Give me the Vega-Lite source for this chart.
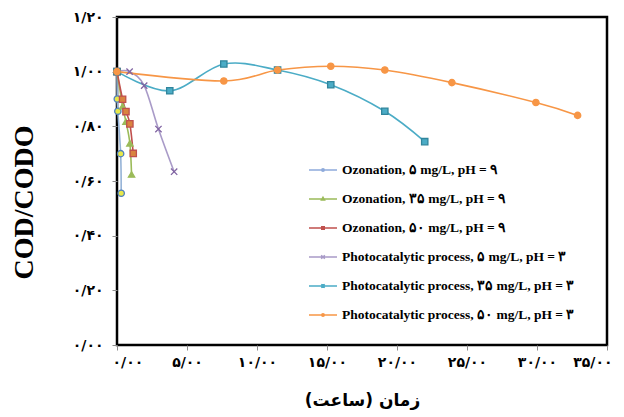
{
  "$schema": "https://vega.github.io/schema/vega-lite/v6.json",
  "width": 490,
  "height": 328,
  "autosize": "none",
  "padding": {"left": 117, "top": 17, "right": 17, "bottom": 72},
  "background": "white",
  "config": {"view": {"stroke": "black", "strokeWidth": 2.5}, "axis": {"grid": false}},
  "data": {"values": [
    {"s": "Ozonation, ۵ mg/L, pH = ۹", "t": 0, "v": 1.0},
    {"s": "Ozonation, ۵ mg/L, pH = ۹", "t": 0.02, "v": 0.90},
    {"s": "Ozonation, ۵ mg/L, pH = ۹", "t": 0.06, "v": 0.855},
    {"s": "Ozonation, ۵ mg/L, pH = ۹", "t": 0.26, "v": 0.70},
    {"s": "Ozonation, ۵ mg/L, pH = ۹", "t": 0.3, "v": 0.555},
    {"s": "Ozonation, ۳۵ mg/L, pH = ۹", "t": 0, "v": 1.0},
    {"s": "Ozonation, ۳۵ mg/L, pH = ۹", "t": 0.4, "v": 0.873},
    {"s": "Ozonation, ۳۵ mg/L, pH = ۹", "t": 0.64, "v": 0.817},
    {"s": "Ozonation, ۳۵ mg/L, pH = ۹", "t": 0.92, "v": 0.738},
    {"s": "Ozonation, ۳۵ mg/L, pH = ۹", "t": 1.04, "v": 0.624},
    {"s": "Ozonation, ۵۰ mg/L, pH = ۹", "t": 0, "v": 1.0},
    {"s": "Ozonation, ۵۰ mg/L, pH = ۹", "t": 0.4, "v": 0.899},
    {"s": "Ozonation, ۵۰ mg/L, pH = ۹", "t": 0.64, "v": 0.854},
    {"s": "Ozonation, ۵۰ mg/L, pH = ۹", "t": 0.92, "v": 0.809},
    {"s": "Ozonation, ۵۰ mg/L, pH = ۹", "t": 1.16, "v": 0.701},
    {"s": "Photocatalytic process, ۵ mg/L, pH = ۳", "t": 0, "v": 1.0},
    {"s": "Photocatalytic process, ۵ mg/L, pH = ۳", "t": 0.9, "v": 1.0},
    {"s": "Photocatalytic process, ۵ mg/L, pH = ۳", "t": 1.94, "v": 0.949},
    {"s": "Photocatalytic process, ۵ mg/L, pH = ۳", "t": 2.96, "v": 0.79},
    {"s": "Photocatalytic process, ۵ mg/L, pH = ۳", "t": 4.08, "v": 0.634},
    {"s": "Photocatalytic process, ۳۵ mg/L, pH = ۳", "t": 0, "v": 1.0},
    {"s": "Photocatalytic process, ۳۵ mg/L, pH = ۳", "t": 3.77, "v": 0.93},
    {"s": "Photocatalytic process, ۳۵ mg/L, pH = ۳", "t": 7.63, "v": 1.028},
    {"s": "Photocatalytic process, ۳۵ mg/L, pH = ۳", "t": 11.47, "v": 1.006},
    {"s": "Photocatalytic process, ۳۵ mg/L, pH = ۳", "t": 15.27, "v": 0.952},
    {"s": "Photocatalytic process, ۳۵ mg/L, pH = ۳", "t": 19.13, "v": 0.855},
    {"s": "Photocatalytic process, ۳۵ mg/L, pH = ۳", "t": 21.98, "v": 0.744},
    {"s": "Photocatalytic process, ۵۰ mg/L, pH = ۳", "t": 0, "v": 1.0},
    {"s": "Photocatalytic process, ۵۰ mg/L, pH = ۳", "t": 7.63, "v": 0.966},
    {"s": "Photocatalytic process, ۵۰ mg/L, pH = ۳", "t": 11.47, "v": 1.006},
    {"s": "Photocatalytic process, ۵۰ mg/L, pH = ۳", "t": 15.27, "v": 1.02},
    {"s": "Photocatalytic process, ۵۰ mg/L, pH = ۳", "t": 19.13, "v": 1.006},
    {"s": "Photocatalytic process, ۵۰ mg/L, pH = ۳", "t": 23.92, "v": 0.96},
    {"s": "Photocatalytic process, ۵۰ mg/L, pH = ۳", "t": 29.92, "v": 0.887},
    {"s": "Photocatalytic process, ۵۰ mg/L, pH = ۳", "t": 32.9, "v": 0.84}
  ]},
  "encoding": {
    "x": {"field": "t", "type": "quantitative", "scale": {"domain": [0, 35], "nice": false},
      "axis": {"values": [0, 5, 10, 15, 20, 25, 30, 35], "format": ".2f",
        "labelExpr": "datum.label=='0.00'?'۰/۰۰':datum.label=='5.00'?'۵/۰۰':datum.label=='10.00'?'۱۰/۰۰':datum.label=='15.00'?'۱۵/۰۰':datum.label=='20.00'?'۲۰/۰۰':datum.label=='25.00'?'۲۵/۰۰':datum.label=='30.00'?'۳۰/۰۰':'۳۵/۰۰'",
        "title": "زمان (ساعت)", "titleFont": "DejaVu Sans", "titleFontWeight": "bold", "titleFontSize": 17, "titleColor": "black", "titlePadding": 23,
        "labelFont": "DejaVu Sans", "labelFontWeight": "bold", "labelFontSize": 14, "labelColor": "black", "labelPadding": 5,
        "tickColor": "#8c8c8c", "tickSize": 5, "domain": false, "labelFlush": true, "labelFlushOffset": 5, "labelOverlap": false, "labelBound": false}},
    "y": {"field": "v", "type": "quantitative", "scale": {"domain": [0, 1.2], "nice": false},
      "axis": {"values": [0, 0.2, 0.4, 0.6, 0.8, 1.0, 1.2], "format": ".2f",
        "labelExpr": "datum.label=='0.00'?'۰/۰۰':datum.label=='0.20'?'۰/۲۰':datum.label=='0.40'?'۰/۴۰':datum.label=='0.60'?'۰/۶۰':datum.label=='0.80'?'۰/۸۰':datum.label=='1.00'?'۱/۰۰':'۱/۲۰'",
        "title": "COD/CODO", "titleFont": "Liberation Serif", "titleFontWeight": "bold", "titleFontSize": 28, "titleColor": "black", "titlePadding": 34, "titleY": 185,
        "labelFont": "DejaVu Sans", "labelFontWeight": "bold", "labelFontSize": 14, "labelColor": "black", "labelPadding": 9,
        "tickColor": "#8c8c8c", "tickSize": 5, "domain": false, "labelOverlap": false, "labelBound": false}}
  },
  "layer": [
    {
      "mark": {"type": "line", "interpolate": "cardinal", "tension": 0, "strokeWidth": 1.6},
      "encoding": {
        "color": {"field": "s", "type": "nominal",
          "scale": {"domain": ["Ozonation, ۵ mg/L, pH = ۹", "Ozonation, ۳۵ mg/L, pH = ۹", "Ozonation, ۵۰ mg/L, pH = ۹", "Photocatalytic process, ۵ mg/L, pH = ۳", "Photocatalytic process, ۳۵ mg/L, pH = ۳", "Photocatalytic process, ۵۰ mg/L, pH = ۳"],
            "range": ["#95b3d7", "#9bbb59", "#c0504d", "#a99bc8", "#4bacc6", "#f79646"]},
          "legend": null}
      }
    },
    {
      "mark": {"type": "point", "filled": true, "size": 40, "strokeWidth": 1.3, "opacity": 1},
      "encoding": {
        "shape": {"field": "s", "type": "nominal",
          "scale": {"domain": ["Ozonation, ۵ mg/L, pH = ۹", "Ozonation, ۳۵ mg/L, pH = ۹", "Ozonation, ۵۰ mg/L, pH = ۹", "Photocatalytic process, ۵ mg/L, pH = ۳", "Photocatalytic process, ۳۵ mg/L, pH = ۳", "Photocatalytic process, ۵۰ mg/L, pH = ۳"],
            "range": ["circle", "triangle-up", "square", "M-1,-1L1,1M-1,1L1,-1", "square", "circle"]},
          "legend": null},
        "fill": {"field": "s", "type": "nominal",
          "scale": {"domain": ["Ozonation, ۵ mg/L, pH = ۹", "Ozonation, ۳۵ mg/L, pH = ۹", "Ozonation, ۵۰ mg/L, pH = ۹", "Photocatalytic process, ۵ mg/L, pH = ۳", "Photocatalytic process, ۳۵ mg/L, pH = ۳", "Photocatalytic process, ۵۰ mg/L, pH = ۳"],
            "range": ["#e8e84a", "#9bbb59", "#d9843f", "#8064a2", "#4bacc6", "#f79646"]},
          "legend": null},
        "stroke": {"field": "s", "type": "nominal",
          "scale": {"domain": ["Ozonation, ۵ mg/L, pH = ۹", "Ozonation, ۳۵ mg/L, pH = ۹", "Ozonation, ۵۰ mg/L, pH = ۹", "Photocatalytic process, ۵ mg/L, pH = ۳", "Photocatalytic process, ۳۵ mg/L, pH = ۳", "Photocatalytic process, ۵۰ mg/L, pH = ۳"],
            "range": ["#4f81bd", "#9bbb59", "#c0504d", "#8064a2", "#31859c", "#f79646"]},
          "legend": null}
      }
    },
    {
      "mark": {"type": "point", "filled": false, "opacity": 0, "size": 784, "strokeWidth": 1.5},
      "encoding": {
        "shape": {"field": "s", "type": "nominal",
          "scale": {"domain": ["Ozonation, ۵ mg/L, pH = ۹", "Ozonation, ۳۵ mg/L, pH = ۹", "Ozonation, ۵۰ mg/L, pH = ۹", "Photocatalytic process, ۵ mg/L, pH = ۳", "Photocatalytic process, ۳۵ mg/L, pH = ۳", "Photocatalytic process, ۵۰ mg/L, pH = ۳"],
            "range": [
              "M-1,0L1,0M0.09,0A0.09,0.09,0,1,1,-0.09,0A0.09,0.09,0,1,1,0.09,0Z",
              "M-1,0L1,0M0,-0.12L0.11,0.08L-0.11,0.08Z",
              "M-1,0L1,0M-0.09,-0.09L0.09,-0.09L0.09,0.09L-0.09,0.09Z",
              "M-1,0L1,0M-0.13,-0.13L0.13,0.13M-0.13,0.13L0.13,-0.13",
              "M-1,0L1,0M-0.12,-0.12L0.12,0.12M-0.12,0.12L0.12,-0.12M0,-0.14L0,0.14",
              "M-1,0L1,0M0.09,0A0.09,0.09,0,1,1,-0.09,0A0.09,0.09,0,1,1,0.09,0Z"
            ]},
          "legend": {"title": null, "orient": "none", "legendX": 191, "legendY": 138, "symbolSize": 784, "symbolStrokeWidth": 1.5,
            "labelFont": "Liberation Serif", "labelFontWeight": "bold", "labelFontSize": 13.5, "labelColor": "black", "labelOffset": 4,
            "rowPadding": 7, "padding": 0, "labelLimit": 400}},
        "color": {"field": "s", "type": "nominal",
          "scale": {"domain": ["Ozonation, ۵ mg/L, pH = ۹", "Ozonation, ۳۵ mg/L, pH = ۹", "Ozonation, ۵۰ mg/L, pH = ۹", "Photocatalytic process, ۵ mg/L, pH = ۳", "Photocatalytic process, ۳۵ mg/L, pH = ۳", "Photocatalytic process, ۵۰ mg/L, pH = ۳"],
            "range": ["#8eaadb", "#9bbb59", "#c0504d", "#a99bc8", "#4bacc6", "#f79646"]},
          "legend": {"title": null, "orient": "none", "legendX": 191, "legendY": 138, "symbolSize": 784, "symbolStrokeWidth": 1.5,
            "labelFont": "Liberation Serif", "labelFontWeight": "bold", "labelFontSize": 13.5, "labelColor": "black", "labelOffset": 4,
            "rowPadding": 7, "padding": 0, "labelLimit": 400}}
      }
    }
  ],
  "resolve": {"scale": {"shape": "independent", "color": "independent"}}
}
